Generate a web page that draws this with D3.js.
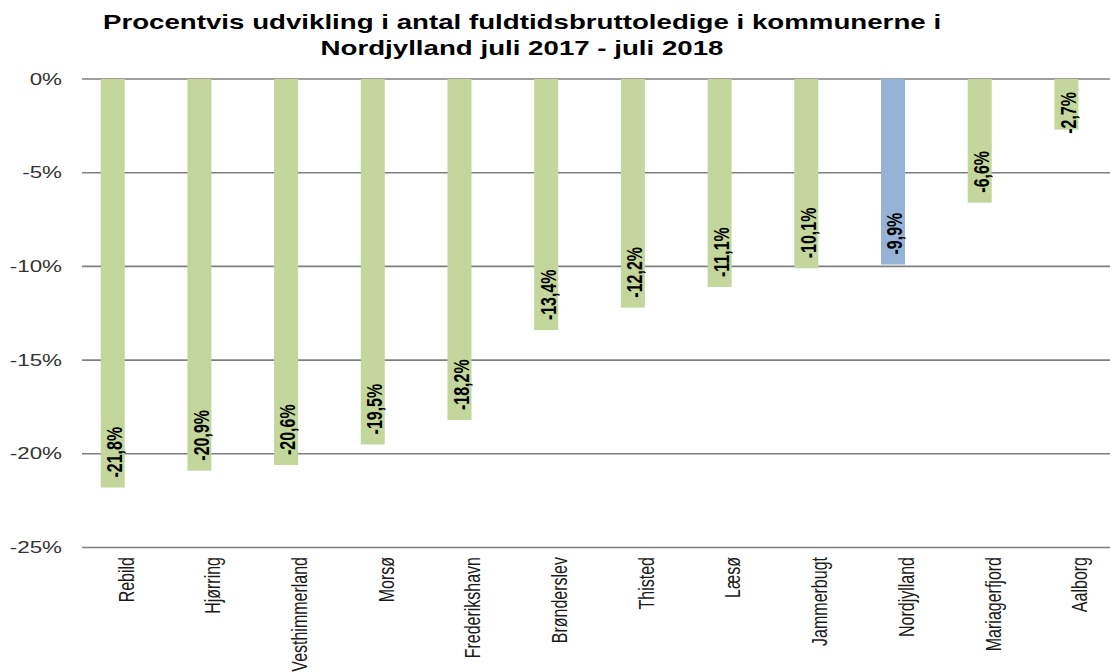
<!DOCTYPE html>
<html>
<head>
<meta charset="utf-8">
<script src="https://cdn.jsdelivr.net/npm/d3@7"></script>
<style>
  html, body { margin: 0; padding: 0; background: #fff; }
  svg { display: block; font-family: "Liberation Sans", Arial, sans-serif; }
</style>
</head>
<body>
<svg id="chart" width="1110" height="672"></svg>
<script>
const titleLines = ["Procentvis udvikling i antal fuldtidsbruttoledige i kommunerne i", "Nordjylland juli 2017 - juli 2018"];
const categories = ["Rebild", "Hjørring", "Vesthimmerland", "Morsø", "Frederikshavn", "Brønderslev", "Thisted", "Læsø", "Jammerbugt", "Nordjylland", "Mariagerfjord", "Aalborg"];
const values = [-21.8, -20.9, -20.6, -19.5, -18.2, -13.4, -12.2, -11.1, -10.1, -9.9, -6.6, -2.7];
const highlight = ["Nordjylland"];
const yTicks = [0, -5, -10, -15, -20, -25];

const svg = d3.select("#chart");
const SX = 1.4;          // horizontal stretch of text
const fmtVal = v => d3.format(".1f")(v).replace(".", ",").replace("−", "-") + "%";
const fmtTick = v => d3.format("d")(v).replace("−", "-") + "%";

const y = d3.scaleLinear().domain([-25, 0]).range([547.5, 79]);
const x = d3.scalePoint().domain(categories).range([112.7, 1066.4]);
const barW = 24;
const gridX0 = 82, gridX1 = 1110;

// Title
svg.append("g").selectAll("text").data(titleLines).join("text")
  .attr("transform", (d, i) => `translate(522,${i === 0 ? 28.5 : 55}) scale(1.42,1)`)
  .attr("text-anchor", "middle")
  .attr("font-size", 19.5)
  .attr("font-weight", "bold")
  .attr("fill", "#000")
  .text(d => d);

// Gridlines
svg.append("g").selectAll("line").data(yTicks).join("line")
  .attr("x1", gridX0).attr("x2", gridX1)
  .attr("y1", d => y(d)).attr("y2", d => y(d))
  .attr("stroke", "#7f7f7f").attr("stroke-width", 1.6);

// Y tick labels
svg.append("g").selectAll("text").data(yTicks).join("text")
  .attr("transform", d => `translate(62,${y(d)}) scale(${SX},1)`)
  .attr("dy", "0.35em")
  .attr("text-anchor", "end")
  .attr("font-size", 16)
  .attr("fill", "#333")
  .text(fmtTick);

const data = categories.map((c, i) => ({ c, v: values[i] }));

// Bars
svg.append("g").selectAll("rect").data(data).join("rect")
  .attr("x", d => x(d.c) - barW / 2)
  .attr("width", barW)
  .attr("y", y(0))
  .attr("height", d => y(d.v) - y(0))
  .attr("fill", d => highlight.includes(d.c) ? "#95b3d7" : "#c3d69b");

// Value labels
const vl = svg.append("g").selectAll("text").data(data).join("text")
  .attr("dy", "0.35em")
  .attr("text-anchor", "start")
  .attr("font-size", 16)
  .attr("font-weight", "bold")
  .attr("fill", "#000")
  .text(d => fmtVal(d.v));
vl.attr("transform", function(d) {
  const len = this.getComputedTextLength();
  const bottom = Math.max(y(d.v) - 10, y(0) + 13 + len);
  return `translate(${x(d.c) + 1.5},${bottom}) scale(${SX},1) rotate(-90)`;
});

// Category labels
svg.append("g").selectAll("text").data(categories).join("text")
  .attr("transform", d => `translate(${x(d) + 13},557) scale(${SX},1) rotate(-90)`)
  .attr("dy", "0.35em")
  .attr("text-anchor", "end")
  .attr("font-size", 16)
  .attr("fill", "#1a1a1a")
  .text(d => d);
</script>
</body>
</html>
